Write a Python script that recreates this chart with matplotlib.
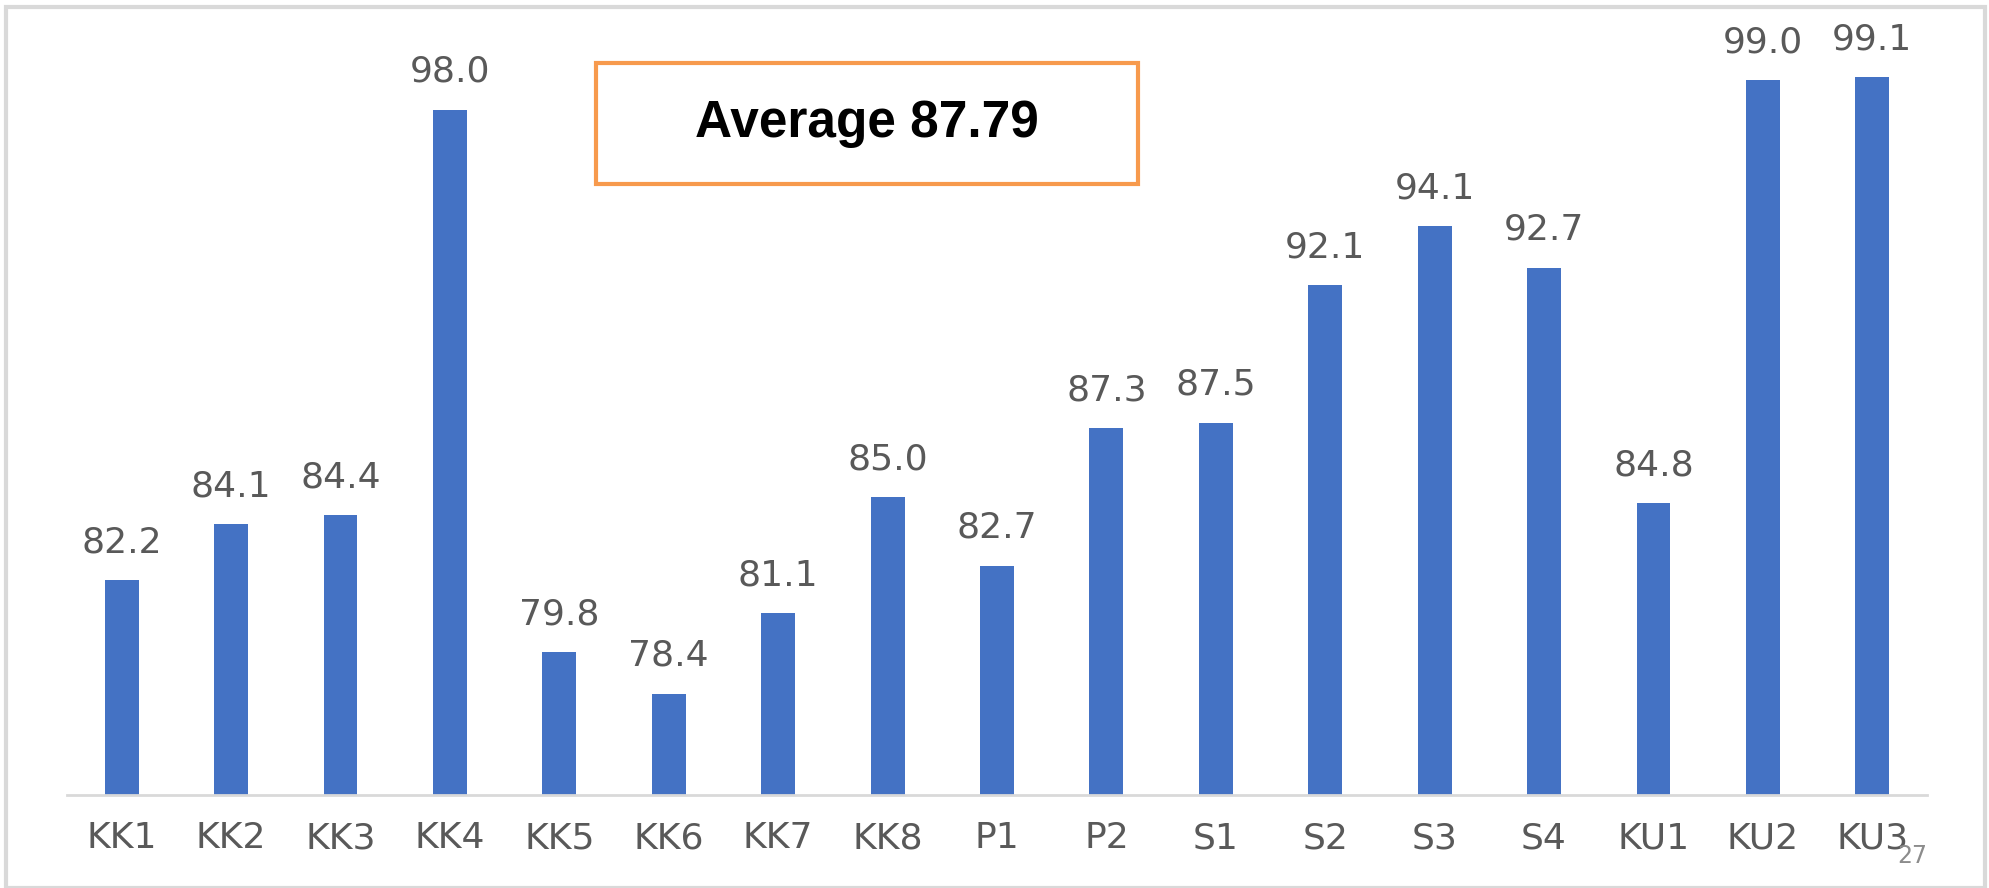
import matplotlib.pyplot as plt
from matplotlib.patches import Rectangle

# sites and scores
sites = ["KK1", "KK2", "KK3", "KK4", "KK5", "KK6", "KK7", "KK8", "P1",
         "P2", "S1", "S2", "S3", "S4", "KU1", "KU2", "KU3"]
scores = [82.2, 84.1, 84.4, 98.0, 79.8, 78.4, 81.1, 85.0, 82.7,
          87.3, 87.5, 92.1, 94.1, 92.7, 84.8, 99.0, 99.1]
average_text = "Average 87.79"
page_no = "27"

W, H = 1990, 888
fig = plt.figure(figsize=(W / 100, H / 100), dpi=100)

# axes placed in pixel terms: x 67..1927, y (from top) 50..795
left, right, top, bottom = 67, 1927, 50, 795
ax = fig.add_axes([left / W, 1 - bottom / H, (right - left) / W, (bottom - top) / H])

x = range(len(sites))
bars = ax.bar(x, scores, width=0.31, color="#4472C4", zorder=2)
ax.set_xlim(-0.5, len(sites) - 0.5)
ax.set_ylim(75, 100)

for rect, v in zip(bars, scores):
    ax.annotate(f"{v:.1f}", (rect.get_x() + rect.get_width() / 2, v),
                xytext=(0, 20), textcoords="offset points",
                ha="center", va="baseline", fontsize=26, color="#595959",
                family="DejaVu Sans", annotation_clip=False)

for s in ["top", "left", "right"]:
    ax.spines[s].set_visible(False)
ax.spines["bottom"].set_color("#D9D9D9")
ax.spines["bottom"].set_linewidth(2)
ax.set_yticks([])
ax.set_xticks(list(x))
ax.set_xticklabels(sites, fontsize=26, color="#595959", family="DejaVu Sans")
ax.tick_params(axis="x", length=0, pad=19)

# average box
box_l, box_r, box_t, box_b = 596, 1138, 63, 184
fig.patches.append(Rectangle((box_l / W, 1 - box_b / H), (box_r - box_l) / W, (box_b - box_t) / H,
                             transform=fig.transFigure, facecolor="white",
                             edgecolor="#F79A4D", linewidth=3, zorder=5))
fig.text((box_l + box_r) / 2 / W, 1 - (box_t + box_b) / 2 / H, average_text,
         ha="center", va="center", fontsize=37, fontweight="bold",
         family="Liberation Sans", color="black", zorder=6)

# slide frame and page number
fig.patches.append(Rectangle((6 / W, 0), (1985 - 6) / W, (H - 7) / H,
                             transform=fig.transFigure, facecolor="none",
                             edgecolor="#D9D9D9", linewidth=3, zorder=1))
fig.text(1927 / W, 1 - 863 / H, page_no, ha="right", va="baseline",
         fontsize=17, color="#8C8C8C")

fig.savefig("out.png", dpi=100)
